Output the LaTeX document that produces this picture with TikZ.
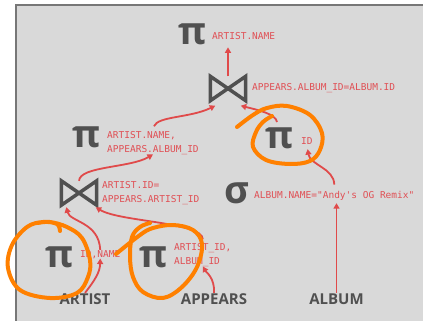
\documentclass[tikz,border=0pt]{standalone}
\usepackage{fontspec}
\usetikzlibrary{arrows.meta}
\setmainfont{Open Sans}
\newfontfamily\monof{DejaVu Sans Mono}
\definecolor{bg}{HTML}{D9D9D9}
\definecolor{frame}{HTML}{777777}
\definecolor{opgray}{HTML}{505050}
\definecolor{labred}{HTML}{E05055}
\definecolor{arrred}{HTML}{E04A4A}
\definecolor{hlorange}{HTML}{FF8000}
\begin{document}
\begin{tikzpicture}[x=1pt,y=-1pt,
  op/.style={font=\bfseries\fontsize{38}{38}\selectfont, text=opgray, inner sep=0pt, anchor=base},
  lab/.style={font=\monof\fontsize{9.5}{13.5}\selectfont, text=labred, align=left, inner sep=0pt, anchor=base west},
  tbl/.style={font=\bfseries\fontsize{15}{15}\selectfont, text=opgray, inner sep=0pt, anchor=base},
  bownode/.style={minimum width=35pt, minimum height=24pt, inner sep=0pt},
  bow/.style={draw=opgray, line width=3.5pt, line join=miter},
  arr/.style={draw=arrred, line width=1.8pt, -{Triangle[length=5.5pt,width=6pt]}},
  hl/.style={draw=hlorange, line width=4pt, line cap=round, line join=round}]
\useasboundingbox (0,0) rectangle (423,321);
% panel
\fill[bg] (16,5) rectangle (425,323);
\draw[frame, line width=2pt] (16,323) -- (16,5) -- (425,5);

% operators
\node[op] (pi1) at (192.5,45) {π};
\node[lab] (l1) at (212,40) {ARTIST.NAME};
\node[bownode] (j1) at (228,88.5) {};
\draw[bow] (j1.north west) -- (j1.south east) -- (j1.north east) -- (j1.south west) -- cycle;
\node[lab] (l0) at (252,91) {APPEARS.ALBUM\_ID=ALBUM.ID};

\node[op] (pi2) at (87,147) {π};
\node[lab] (l2) at (107,152) {ARTIST.NAME,\\APPEARS.ALBUM\_ID};

\node[op] (pi3) at (280,148) {π};
\node[lab] (l3) at (301,144) {ID};

\node[bownode] (j2) at (79,193) {};
\draw[bow] (j2.north west) -- (j2.south east) -- (j2.north east) -- (j2.south west) -- cycle;
\node[lab] (lj2) at (102,202) {ARTIST.ID=\\APPEARS.ARTIST\_ID};

\node[op] (sg) at (237,203) {σ};
\node[lab] (sl) at (254,198) {ALBUM.NAME="Andy's OG Remix"};

\node[op] (pi4) at (60,267) {π};
\node[lab] (l4) at (80,257) {ID,NAME};

\node[op] (pi5) at (154,267) {π};
\node[lab] (l5) at (174,264) {ARTIST\_ID,\\ALBUM\_ID};

\node[tbl] (t1) at (85,304) {ARTIST};
\node[tbl] (t2) at (214,304) {APPEARS};
\node[tbl] (t3) at (336.5,304) {ALBUM};

% connectors
\draw[arr, shorten >=7pt] (j1.north) -- (j1.north |- l1.south);
\draw[arr] ([shift={(1,-5)}]l2.north) .. controls (158,116) and (190,118) .. ([shift={(5,5)}]j1.south west);
\draw[arr] ([shift={(-3,-26)}]pi3.base) .. controls (276,114) and (258,110) .. ([shift={(-5,5)}]j1.south east);
\draw[arr] (j2.north) .. controls (80,166) and (130,168) .. (l2.south);
\draw[arr, shorten >=5pt] ([yshift=6pt]sl.north) .. controls (334,168) and (310,165) .. (l3.south);
\draw[arr, shorten >=3pt] (t3.north) -- (t3.north |- sl.south);
\draw[arr] (t1.north) .. controls (95,280) and (100,272) .. (l4.south);
\draw[arr] (l4.north) .. controls (99,222) and (70,222) .. ([shift={(5,2)}]j2.south west);
\draw[arr] (t2.north) .. controls (215,278) and (206,272) .. (l5.south);
\draw[arr] ([yshift=4pt]l5.north) .. controls (203,222) and (120,222) .. ([shift={(-1,2)}]j2.south east);

% orange annotations
\draw[hl] plot[smooth, tension=0.6] coordinates {(237,127) (253,115) (267,108) (287,106) (310,115) (322,133) (320,150) (310,161) (290,164) (266,160) (253,147) (256,132) (263,122) (272,116)};
\draw[hl] plot[smooth, tension=0.6] coordinates {(60,231) (57,224) (43,222) (27,227) (12,245) (8,268) (20,290) (50,298) (77,293) (88,277) (90,260) (82,238) (67,227) (50,222) (38,223)};
\draw[hl] plot[smooth, tension=0.6] coordinates {(116,254) (140,235) (153,228) (173,225) (193,230) (202,244) (197,267) (182,287) (163,298) (143,292) (133,277) (130,257) (132,237) (140,227) (150,223)};
\end{tikzpicture}
\end{document}
